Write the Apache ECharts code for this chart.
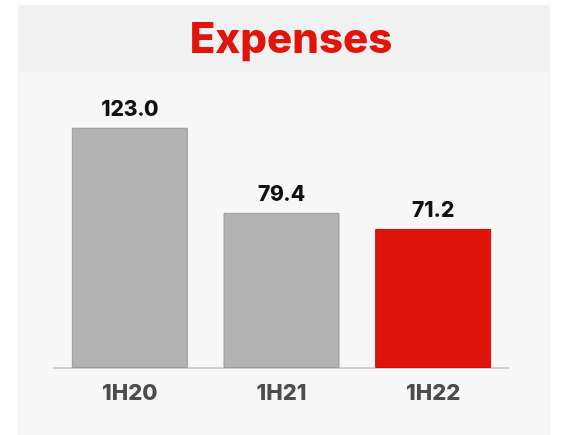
<!DOCTYPE html>
<html><head><meta charset="utf-8">
<script src="https://cdn.jsdelivr.net/npm/echarts@6/dist/echarts.min.js"></script>
<style>html,body{margin:0;padding:0;background:#fff}#c{width:561px;height:435px}</style>
</head><body><div id="c"></div>
<script>
const categories = ['1H20', '1H21', '1H22'];
const values = [123.0, 79.4, 71.2];
const barColors = ['#b3b3b3', '#b3b3b3', '#df140b'];
const borderColors = ['#9a9a9a', '#9a9a9a', '#c81008'];
const titleText = 'Expenses';

const chart = echarts.init(document.getElementById('c'), null, {renderer: 'canvas'});
chart.setOption({
  backgroundColor: '#ffffff',
  animation: false,
  graphic: [
    {type: 'rect', z: -10, shape: {x: 18, y: 5, width: 532, height: 430}, style: {fill: '#f7f7f7'}},
    {type: 'rect', z: -9, shape: {x: 18, y: 5, width: 532, height: 67}, style: {fill: '#f1f1f1'}}
  ],
  title: {
    text: titleText, left: 286, top: 14, textAlign: 'center',
    textStyle: {color: '#e0140b', fontSize: 42, fontWeight: 800, fontFamily: 'Inter'}
  },
  grid: {left: 54, right: 52, top: 75, bottom: 67},
  xAxis: {
    type: 'category', data: categories,
    axisLine: {lineStyle: {color: '#cfcfcf', width: 2}},
    axisTick: {show: false},
    axisLabel: {color: '#4d4d4d', fontSize: 22, fontWeight: 800, fontFamily: 'Inter', margin: 14}
  },
  yAxis: {type: 'value', min: 0, max: 150, show: false, splitLine: {show: false}},
  series: [{
    type: 'bar', barWidth: 116,
    data: values.map((v, i) => ({value: v, itemStyle: {color: barColors[i], borderColor: borderColors[i], borderWidth: 1}})),
    label: {show: true, position: 'top', distance: 8, formatter: p => p.value.toFixed(1),
      color: '#111111', fontSize: 21, fontWeight: 800, fontFamily: 'Inter'}
  }]
});
</script></body></html>
